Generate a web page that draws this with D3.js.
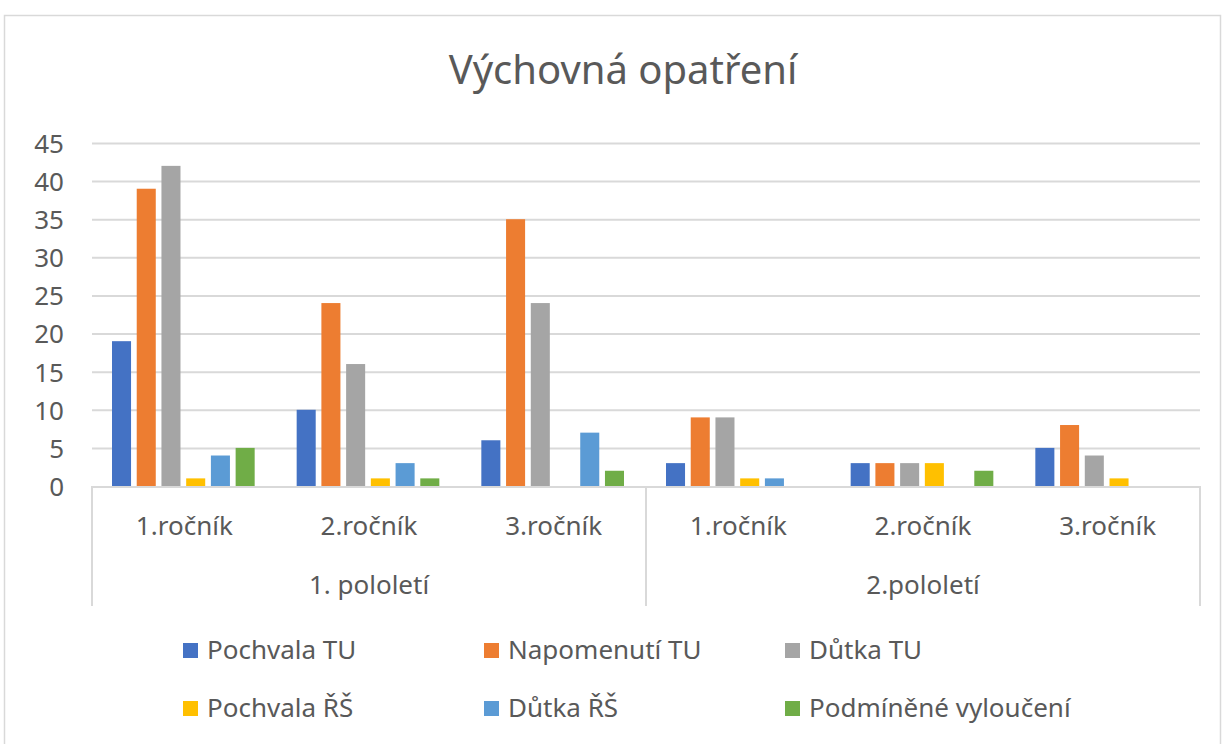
<!DOCTYPE html>
<html>
<head>
<meta charset="utf-8">
<script src="https://cdn.jsdelivr.net/npm/d3@7"></script>
<style>
  body { margin: 0; background: #fff; }
  svg text { font-family: "Noto Sans", "Open Sans", sans-serif; }
</style>
</head>
<body>
<div id="chart"></div>
<script>
const semesters = ["1. pololetí", "2.pololetí"];
const years = ["1.ročník", "2.ročník", "3.ročník"];
const seriesNames = ["Pochvala TU", "Napomenutí TU", "Důtka TU", "Pochvala ŘŠ", "Důtka ŘŠ", "Podmíněné vyloučení"];
const colors = ["#4472C4", "#ED7D31", "#A5A5A5", "#FFC000", "#5B9BD5", "#70AD47"];
// one row per series, six values: 1.pol 1-3 ročník, 2.pol 1-3 ročník
const pochvalaTU   = [19, 10, 6, 3, 3, 5];
const napomenutiTU = [39, 24, 35, 9, 3, 8];
const dutkaTU      = [42, 16, 24, 9, 3, 4];
const pochvalaRS   = [1, 1, 0, 1, 3, 1];
const dutkaRS      = [4, 3, 7, 1, 0, 0];
const podmVylouc   = [5, 1, 2, 0, 2, 0];
const yTicks = [0, 5, 10, 15, 20, 25, 30, 35, 40, 45];

const seriesValues = [pochvalaTU, napomenutiTU, dutkaTU, pochvalaRS, dutkaRS, podmVylouc];
const categories = [];
semesters.forEach(s => years.forEach(y => categories.push({ key: s + "|" + y, sem: s, year: y })));

const width = 1225, height = 744;
const margin = { top: 143, right: 25, bottom: 258, left: 92 };
const plotBottom = height - margin.bottom;
const textColor = "#595959";
const fontSize = "26px";

const svg = d3.select("#chart").append("svg")
    .attr("width", width)
    .attr("height", height);

// chart frame
svg.append("rect")
    .attr("x", 4.5).attr("y", 15.5)
    .attr("width", 1216).attr("height", 740)
    .attr("fill", "#fff")
    .attr("stroke", "#d9d9d9")
    .attr("stroke-width", 1.5);

const x0 = d3.scaleBand()
    .domain(categories.map(d => d.key))
    .range([margin.left, width - margin.right]);

const x1 = d3.scaleBand()
    .domain(seriesNames)
    .range([20, x0.bandwidth() - 22])
    .paddingInner(0.23);

const y = d3.scaleLinear()
    .domain([0, 45])
    .range([plotBottom, margin.top]);

// gridlines
svg.append("g")
    .attr("transform", `translate(${margin.left},0)`)
    .call(d3.axisLeft(y).tickValues(yTicks.slice(1)).tickSize(-(width - margin.right - margin.left)).tickFormat(""))
    .call(g => g.select(".domain").remove())
    .call(g => g.selectAll("line").attr("stroke", "#d9d9d9").attr("stroke-width", 2));

// y labels
svg.append("g")
    .attr("transform", `translate(64,0)`)
    .call(d3.axisLeft(y).tickValues(yTicks).tickSize(0).tickPadding(0))
    .call(g => g.select(".domain").remove())
    .call(g => g.selectAll("text")
        .attr("fill", textColor)
        .style("font-size", fontSize)
        .attr("dy", "0.36em"));

// bars
const groups = svg.append("g").selectAll("g")
    .data(categories)
    .join("g")
    .attr("transform", d => `translate(${x0(d.key)},0)`);

groups.selectAll("rect")
    .data((d, i) => seriesNames.map((s, j) => ({ s, v: seriesValues[j][i], c: colors[j] })))
    .join("rect")
    .attr("x", d => x1(d.s))
    .attr("width", x1.bandwidth())
    .attr("y", d => y(d.v))
    .attr("height", d => plotBottom - y(d.v))
    .attr("fill", d => d.c);

// category axis (two levels)
const axisLine = svg.append("g");
axisLine.append("line")
    .attr("x1", margin.left).attr("x2", width - margin.right)
    .attr("y1", plotBottom + 1).attr("y2", plotBottom + 1)
    .attr("stroke", "#d9d9d9").attr("stroke-width", 2);

const semScale = d3.scaleBand()
    .domain(semesters)
    .range([margin.left, width - margin.right]);

const sepX = [margin.left, ...semesters.map(s => semScale(s) + semScale.bandwidth())];
axisLine.selectAll(".sep")
    .data(sepX)
    .join("line")
    .attr("class", "sep")
    .attr("x1", d => d).attr("x2", d => d)
    .attr("y1", plotBottom).attr("y2", 606)
    .attr("stroke", "#d9d9d9").attr("stroke-width", 2);

svg.append("g")
    .attr("transform", `translate(0,${plotBottom})`)
    .call(d3.axisBottom(x0).tickSize(0).tickFormat(k => k.split("|")[1]))
    .call(g => g.select(".domain").remove())
    .call(g => g.selectAll("text")
        .attr("fill", textColor)
        .attr("y", 49)
        .attr("dy", "0")
        .style("font-size", fontSize));

svg.append("g")
    .attr("transform", `translate(0,${plotBottom})`)
    .call(d3.axisBottom(semScale).tickSize(0))
    .call(g => g.select(".domain").remove())
    .call(g => g.selectAll("text")
        .attr("fill", textColor)
        .attr("y", 108)
        .attr("dy", "0")
        .style("font-size", fontSize));

// title
svg.append("text")
    .attr("x", 623)
    .attr("y", 84)
    .attr("text-anchor", "middle")
    .attr("fill", textColor)
    .style("font-size", "40px")
    .text("Výchovná opatření");

// legend
const legX = [183, 484, 785];
const legY = [659, 717];
const legend = svg.append("g").selectAll("g")
    .data(seriesNames)
    .join("g")
    .attr("transform", (d, i) => `translate(${legX[i % 3]},${legY[Math.floor(i / 3)]})`);

legend.append("rect")
    .attr("x", 0).attr("y", -16)
    .attr("width", 15).attr("height", 15)
    .attr("fill", (d, i) => colors[i]);

legend.append("text")
    .attr("x", 24)
    .attr("fill", textColor)
    .style("font-size", fontSize)
    .text(d => d);
</script>
</body>
</html>
